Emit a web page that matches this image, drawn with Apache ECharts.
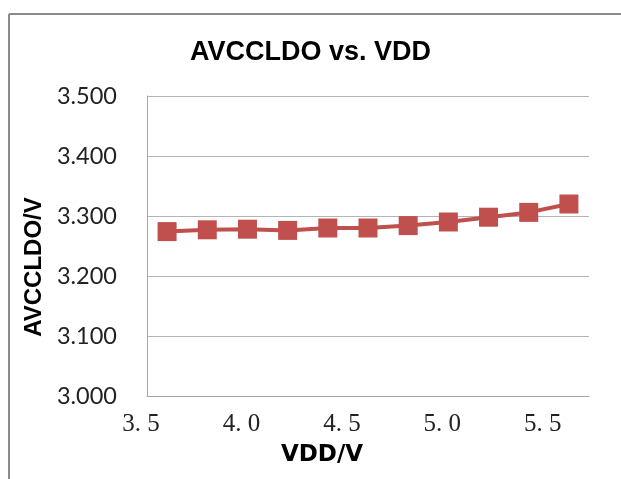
<!DOCTYPE html>
<html>
<head>
<meta charset="utf-8">
<script src="https://cdn.jsdelivr.net/npm/echarts@6/dist/echarts.min.js"></script>
<style>
html,body{margin:0;padding:0;background:#fff;}
#chart{width:621px;height:479px;}
</style>
</head>
<body>
<div id="chart"></div>
<script>
var vdd = [3.6, 3.8, 4.0, 4.2, 4.4, 4.6, 4.8, 5.0, 5.2, 5.4, 5.6];
var avccldo = [3.274, 3.277, 3.278, 3.276, 3.280, 3.280, 3.284, 3.290, 3.298, 3.306, 3.320];
var titleText = 'AVCCLDO vs. VDD';
var xName = 'VDD/V';
var yName = 'AVCCLDO/V';

var pts = vdd.map(function (x, i) { return [x, avccldo[i]]; });

var chart = echarts.init(document.getElementById('chart'), null, {renderer: 'canvas'});
chart.setOption({
  backgroundColor: '#ffffff',
  animation: false,
  title: {
    text: titleText,
    left: 'center',
    top: 34,
    textStyle: {fontFamily: 'Liberation Sans', fontWeight: 'bold', fontSize: 27, color: '#000'}
  },
  graphic: [
    {type: 'line', shape: {x1: 9, y1: 14, x2: 9, y2: 479}, style: {stroke: '#8a8a8a', lineWidth: 2}},
    {type: 'line', shape: {x1: 9, y1: 14, x2: 621, y2: 14}, style: {stroke: '#8a8a8a', lineWidth: 2}}
  ],
  grid: {left: 147, right: 32, top: 96, bottom: 83},
  xAxis: {
    type: 'value',
    min: 3.5,
    max: 5.7,
    interval: 0.5,
    name: xName,
    nameLocation: 'middle',
    nameGap: 48,
    nameTextStyle: {fontFamily: 'DejaVu Sans', fontWeight: 'bold', fontSize: 23, color: '#000', padding: [0, 92, 0, 0]},
    axisLine: {show: true, lineStyle: {color: '#a6a6a6', width: 1}},
    axisTick: {show: false},
    splitLine: {show: false},
    axisLabel: {
      showMaxLabel: false,
      margin: 16,
      fontFamily: 'Liberation Serif',
      fontSize: 25,
      color: '#222',
      padding: [0, 12, 0, 0],
      formatter: function (v) { return v.toFixed(1).replace('.', '. '); }
    }
  },
  yAxis: {
    type: 'value',
    min: 3.0,
    max: 3.5,
    interval: 0.1,
    name: yName,
    nameLocation: 'middle',
    nameGap: 101,
    nameTextStyle: {fontFamily: 'Liberation Sans', fontWeight: 'bold', fontSize: 24, color: '#000', padding: [0, 42, 0, 0]},
    axisLine: {show: true, lineStyle: {color: '#a6a6a6', width: 1}},
    axisTick: {show: false},
    splitLine: {show: true, lineStyle: {color: '#b4b4b4', width: 1}},
    axisLabel: {
      margin: 30,
      fontFamily: 'Lato',
      fontSize: 23.5,
      color: '#222',
      formatter: function (v) { return v.toFixed(3); }
    }
  },
  series: [{
    type: 'line',
    data: pts,
    symbol: 'rect',
    symbolSize: 19,
    lineStyle: {color: '#C0504D', width: 4},
    itemStyle: {color: '#C0504D'}
  }]
});
</script>
</body>
</html>
